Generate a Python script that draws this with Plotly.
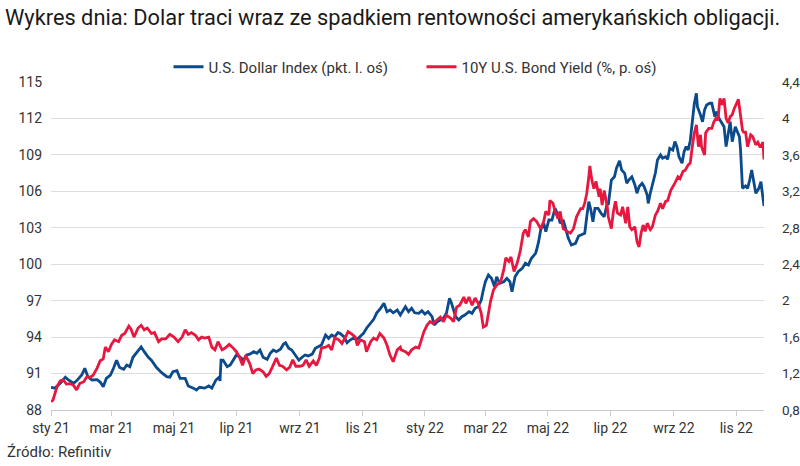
import plotly.graph_objects as go
import pandas as pd

START = "2021-01-01"

# U.S. Dollar Index (left axis) — days since 2021-01-01 and index level
dxy_days = [0, 4, 9, 14, 17, 22, 25, 30, 33, 36, 40, 45, 48, 51, 54, 58, 61, 64, 67, 71,
            74, 77, 80, 84, 88, 91, 95, 98, 103, 108, 113, 116, 119, 123, 126, 131, 134, 139, 142, 145,
            150, 154, 157, 161, 164, 165, 166,
            168, 172, 175, 178, 181, 185, 188, 191, 194, 198, 201, 204, 207, 211, 214, 217, 220, 224, 227,
            229, 232, 235, 238, 242, 245, 248, 251, 255, 258, 261, 264, 268, 271, 274, 277, 280, 282, 286,
            289, 292, 295, 299, 302, 305, 308, 312, 315, 318, 321, 325, 328, 331, 334, 338, 341,
            342, 346, 349, 352, 355, 359, 362, 365, 368, 372, 374, 377, 380, 383, 386, 389, 391, 395, 398,
            401, 404, 408, 411, 414, 417, 420, 422, 424, 427, 430, 433, 435, 438, 442, 445, 448, 450, 453,
            456, 460, 463, 466, 469, 473, 474, 476, 478, 481, 483, 486, 489, 492, 495, 497, 500, 503, 505,
            508, 512, 515,
            518, 521, 523, 525, 527, 529, 531, 534, 537, 540, 543, 544, 547, 550, 552, 555, 557, 560, 562,
            564, 567, 570, 572, 574, 577, 579, 582, 583, 585, 587, 590, 592, 595, 597, 600, 602, 604, 607,
            609, 611, 613, 616, 618, 620, 622, 624, 626, 628, 630, 631, 634, 636, 638, 640, 643, 645, 648,
            650, 652, 655, 657, 659, 661, 663, 665, 668, 670, 672, 673, 674, 675, 678, 680, 682, 684, 686,
            688, 691, 693, 694, 696]
dxy_values = [89.87, 89.8, 90.2, 90.7, 90.47, 90.2, 90.4, 90.88, 91.43, 90.74, 90.47, 90.5, 90.3, 89.92, 90.6,
              90.88, 91.43, 92.1, 91.5, 91.35, 91.7, 91.57, 92.34, 92.8, 93.2, 92.8, 92.34, 92.1, 91.5, 91.07,
              90.74, 90.7, 91.15, 91.24, 90.6, 90.6, 89.98, 89.8, 89.65, 89.87, 89.8, 89.98, 89.8, 90.47, 90.7,
              90.4, 92.1,
              92.1, 91.57, 91.7, 92.17, 92.53, 92.34, 92.1, 92.53, 92.6, 92.8, 92.67, 92.94, 92.34, 92.17, 92.67,
              92.94, 92.8, 93.0, 93.43, 93.54, 93.08, 92.94, 92.6, 92.1, 92.34, 92.53, 92.45, 92.6, 93.08, 93.21,
              93.35, 94.17, 93.9, 94.17, 94.03, 94.36, 94.31, 94.03, 93.54, 93.76, 93.9, 93.82, 94.03, 94.31,
              94.73, 95.14, 95.47, 96.0, 96.29, 96.78, 96.09, 96.23, 96.0, 96.23, 95.82,
              95.96, 96.5, 96.09, 96.37, 96.0, 95.96, 96.17, 95.9, 96.09, 95.68, 95.0, 95.27, 95.41, 95.55, 95.96,
              97.2, 96.78, 95.68, 95.41, 95.68, 95.82, 96.09, 95.96, 96.37, 96.5, 97.05, 97.88, 98.56, 99.11,
              98.84, 98.15, 98.97, 98.43, 98.56, 98.84, 98.56, 97.74, 98.97, 99.38, 99.66, 100.08, 99.94, 100.49,
              100.9, 101.17, 101.86, 102.82, 103.37, 102.68, 103.64, 103.64, 104.6, 104.05, 103.37, 103.64,
              102.82, 102.13, 101.58, 101.72, 102.32,
              102.41, 102.55, 103.91, 105.15, 104.46, 103.5, 104.6, 104.6, 104.19, 103.91, 105.01, 104.88, 106.93,
              107.2, 107.9, 108.52, 107.76, 107.48, 106.66, 106.93, 107.2, 106.52, 105.84, 106.38, 106.66, 106.38,
              105.7, 105.01, 105.84, 106.44, 107.53, 108.58, 108.99, 108.72, 108.85, 108.64, 109.54, 109.4, 110.09,
              109.68, 108.85, 108.31, 109.27, 109.68, 109.4, 110.17, 111.6, 113.25, 114.07, 112.97, 112.28, 111.73,
              112.7, 113.1, 113.25, 113.25, 112.15, 112.56, 112.01, 111.6, 111.32, 109.68, 110.64, 111.73, 110.09,
              111.32, 110.91, 110.5, 109.54, 107.76, 106.25, 106.44, 106.25, 106.93, 107.76, 106.79, 105.84,
              106.25, 106.79, 106.11, 104.79]

# 10Y U.S. Bond Yield (right axis, %)
yield_days = [0, 2, 6, 9, 12, 15, 19, 22, 25, 28, 32, 35, 38, 41, 45, 48, 51, 53, 56, 59,
              62, 66, 69, 72, 76, 78, 81, 85, 88, 91, 94, 98, 101, 105, 108, 112, 116, 120, 124, 128,
              131, 134, 137, 141, 144, 147, 150, 154, 157, 160, 163, 167, 170,
              174, 177, 181, 184, 187, 190, 194, 197, 200, 203, 207, 210, 213, 216, 220, 223, 226, 230, 233, 236,
              239, 243, 246, 249, 252, 256, 259, 262, 264, 268, 271, 274, 277, 281, 284, 287, 290, 294, 297, 299,
              302, 306, 308, 312, 315, 318, 321, 325, 328, 331, 334, 338, 341,
              342, 346, 349, 352, 356, 359, 361, 364, 367, 370, 373, 377, 380, 383, 386, 390, 393, 396, 399, 403,
              405, 408, 411, 414, 417, 420, 422, 425, 427, 429, 432, 435, 439, 442, 444, 447, 449, 452, 455, 458,
              461, 463, 466, 468, 471, 474, 478, 481, 483, 486, 487, 490, 492, 495, 497, 500, 504, 507, 510, 513,
              517,
              519, 521, 523, 525, 526, 528, 530, 532, 535, 536, 538, 540, 543, 544, 547, 549, 551, 553, 556, 558,
              561, 563, 565, 567, 570, 572, 574, 576, 578, 580, 582, 585, 587, 590, 592, 595, 597, 600, 602, 605,
              607, 609, 612, 614, 617, 619, 622, 624, 626, 628, 630, 632, 634, 635, 638, 639, 642, 645, 647, 649,
              651, 653, 655, 657, 659, 661, 663, 665, 667, 670, 671, 673, 675, 676, 678, 680, 683, 685, 688, 690,
              692, 693, 695, 696]
yield_values = [0.89, 0.91, 1.06, 1.12, 1.13, 1.085, 1.09, 1.07, 1.02, 1.09, 1.11, 1.165, 1.16, 1.18, 1.26, 1.34,
                1.36, 1.49, 1.44, 1.52, 1.57, 1.55, 1.62, 1.64, 1.72, 1.69, 1.60, 1.70, 1.73, 1.68, 1.70, 1.64,
                1.65, 1.55, 1.58, 1.58, 1.63, 1.60, 1.55, 1.60, 1.68, 1.63, 1.65, 1.62, 1.57, 1.60, 1.59, 1.60,
                1.49, 1.46, 1.55, 1.46, 1.48,
                1.52, 1.49, 1.44, 1.38, 1.29, 1.40, 1.31, 1.20, 1.24, 1.25, 1.22, 1.17, 1.20, 1.27, 1.37, 1.29,
                1.28, 1.24, 1.27, 1.35, 1.28, 1.28, 1.29, 1.35, 1.28, 1.34, 1.29, 1.37, 1.48, 1.49, 1.51, 1.46,
                1.59, 1.57, 1.53, 1.59, 1.66, 1.63, 1.60, 1.51, 1.57, 1.55, 1.44, 1.55, 1.59, 1.57, 1.64, 1.59,
                1.51, 1.40, 1.33, 1.46, 1.49,
                1.46, 1.44, 1.41, 1.46, 1.49, 1.48, 1.55, 1.66, 1.73, 1.77, 1.75, 1.79, 1.82, 1.77, 1.84, 1.81,
                1.77, 1.93, 1.95, 2.04, 1.97, 2.04, 1.95, 2.03, 1.97, 1.86, 1.71, 1.73, 1.86, 1.99, 2.12, 2.17,
                2.21, 2.34, 2.47, 2.43, 2.48, 2.32, 2.41, 2.54, 2.74, 2.78, 2.70, 2.87, 2.90, 2.87, 2.79, 2.87,
                2.98, 2.94, 3.10, 3.07, 2.98, 2.90, 2.98, 2.79, 2.76, 2.74, 2.79, 2.92, 3.01,
                3.01, 3.07, 3.18, 3.36, 3.48, 3.32, 3.23, 3.31, 3.14, 3.23, 3.05, 3.21, 3.03, 2.92, 2.79, 2.98,
                3.09, 2.96, 2.94, 3.03, 2.85, 3.03, 2.81, 2.78, 2.81, 2.65, 2.59, 2.74, 2.83, 2.76, 2.85, 2.78,
                2.81, 2.94, 2.98, 3.07, 3.01, 3.09, 3.10, 3.21, 3.26, 3.29, 3.36, 3.34, 3.42, 3.43, 3.49, 3.51,
                3.69, 3.84, 3.93, 3.69, 3.82, 3.69, 3.60, 3.84, 3.89, 3.89, 3.96, 4.0, 3.98, 4.22, 4.15, 4.22,
                4.0, 3.95, 4.02, 4.04, 4.11, 4.18, 4.21, 4.04, 3.87, 3.85, 3.85, 3.69, 3.82, 3.80, 3.71, 3.74,
                3.69, 3.69, 3.74, 3.55]

month_ticks = ["2021-01-01", "2021-03-01", "2021-05-01", "2021-07-01", "2021-09-01", "2021-11-01",
               "2022-01-01", "2022-03-01", "2022-05-01", "2022-07-01", "2022-09-01", "2022-11-01"]
month_labels = ["sty 21", "mar 21", "maj 21", "lip 21", "wrz 21", "lis 21",
                "sty 22", "mar 22", "maj 22", "lip 22", "wrz 22", "lis 22"]

left_ticks = [88, 91, 94, 97, 100, 103, 106, 109, 112, 115]
right_ticks = [0.8, 1.2, 1.6, 2.0, 2.4, 2.8, 3.2, 3.6, 4.0, 4.4]

start = pd.Timestamp(START)
dxy_dates = start + pd.to_timedelta(dxy_days, unit="D")
yield_dates = start + pd.to_timedelta(yield_days, unit="D")

BLUE = "#0b4a8b"
RED = "#e8173f"
FONT = "Roboto"

fig = go.Figure()
fig.add_trace(go.Scatter(x=dxy_dates, y=dxy_values, mode="lines", name="U.S. Dollar Index (pkt. l. oś)",
                         line=dict(color=BLUE, width=2.8), yaxis="y"))
fig.add_trace(go.Scatter(x=yield_dates, y=yield_values, mode="lines", name="10Y U.S. Bond Yield (%, p. oś)",
                         line=dict(color=RED, width=2.8), yaxis="y2"))

fig.update_layout(
    width=800, height=466,
    margin=dict(l=51, r=36, t=82, b=56),
    paper_bgcolor="white", plot_bgcolor="white",
    separators=", ",
    font=dict(family=FONT, size=13, color="#333333"),
    title=dict(text="Wykres dnia: Dolar traci wraz ze spadkiem rentowności amerykańskich obligacji.",
               x=5 / 800, xanchor="left", xref="container",
               y=1 - 17 / 466, yanchor="middle", yref="container",
               font=dict(family=FONT, size=21.8, color="#1a1a1a")),
    showlegend=True,
    legend=dict(orientation="h", x=0.5 + 14 / 713, xanchor="center", y=1 + 15 / 328, yanchor="middle",
                font=dict(family=FONT, size=15, color="#333333"), itemwidth=30,
                entrywidth=208, entrywidthmode="pixels",
                bgcolor="rgba(0,0,0,0)"),
    xaxis=dict(type="date", range=[dxy_dates[0], dxy_dates[-1]], automargin=False,
               tickvals=month_ticks, ticktext=month_labels,
               ticks="outside", ticklen=5, tickcolor="#cccccc", tickwidth=1,
               showline=True, linecolor="#cccccc", linewidth=1,
               showgrid=False, zeroline=False,
               tickfont=dict(family=FONT, size=14, color="#333333")),
    yaxis=dict(range=[88, 115], tickvals=left_ticks, automargin=False,
               showgrid=True, gridcolor="#dddddd", gridwidth=1, zeroline=False,
               ticks="", ticklabelstandoff=8,
               tickfont=dict(family=FONT, size=14, color="#333333")),
    yaxis2=dict(range=[0.8, 4.4], tickvals=right_ticks, overlaying="y", side="right", automargin=False,
                showgrid=False, zeroline=False, ticks="", ticklabelstandoff=17,
                tickfont=dict(family=FONT, size=13.5, color="#333333")),
    annotations=[dict(text="Źródło: Refinitiv", xref="paper", yref="paper",
                      x=(5 - 51) / 713, xanchor="left", y=(410 - 452) / 328, yanchor="middle",
                      showarrow=False, font=dict(family=FONT, size=15, color="#333333"))],
)

fig.write_html("out.html", config={"displayModeBar": False},
               post_script="document.body.style.margin='0';document.body.style.padding='0';")
